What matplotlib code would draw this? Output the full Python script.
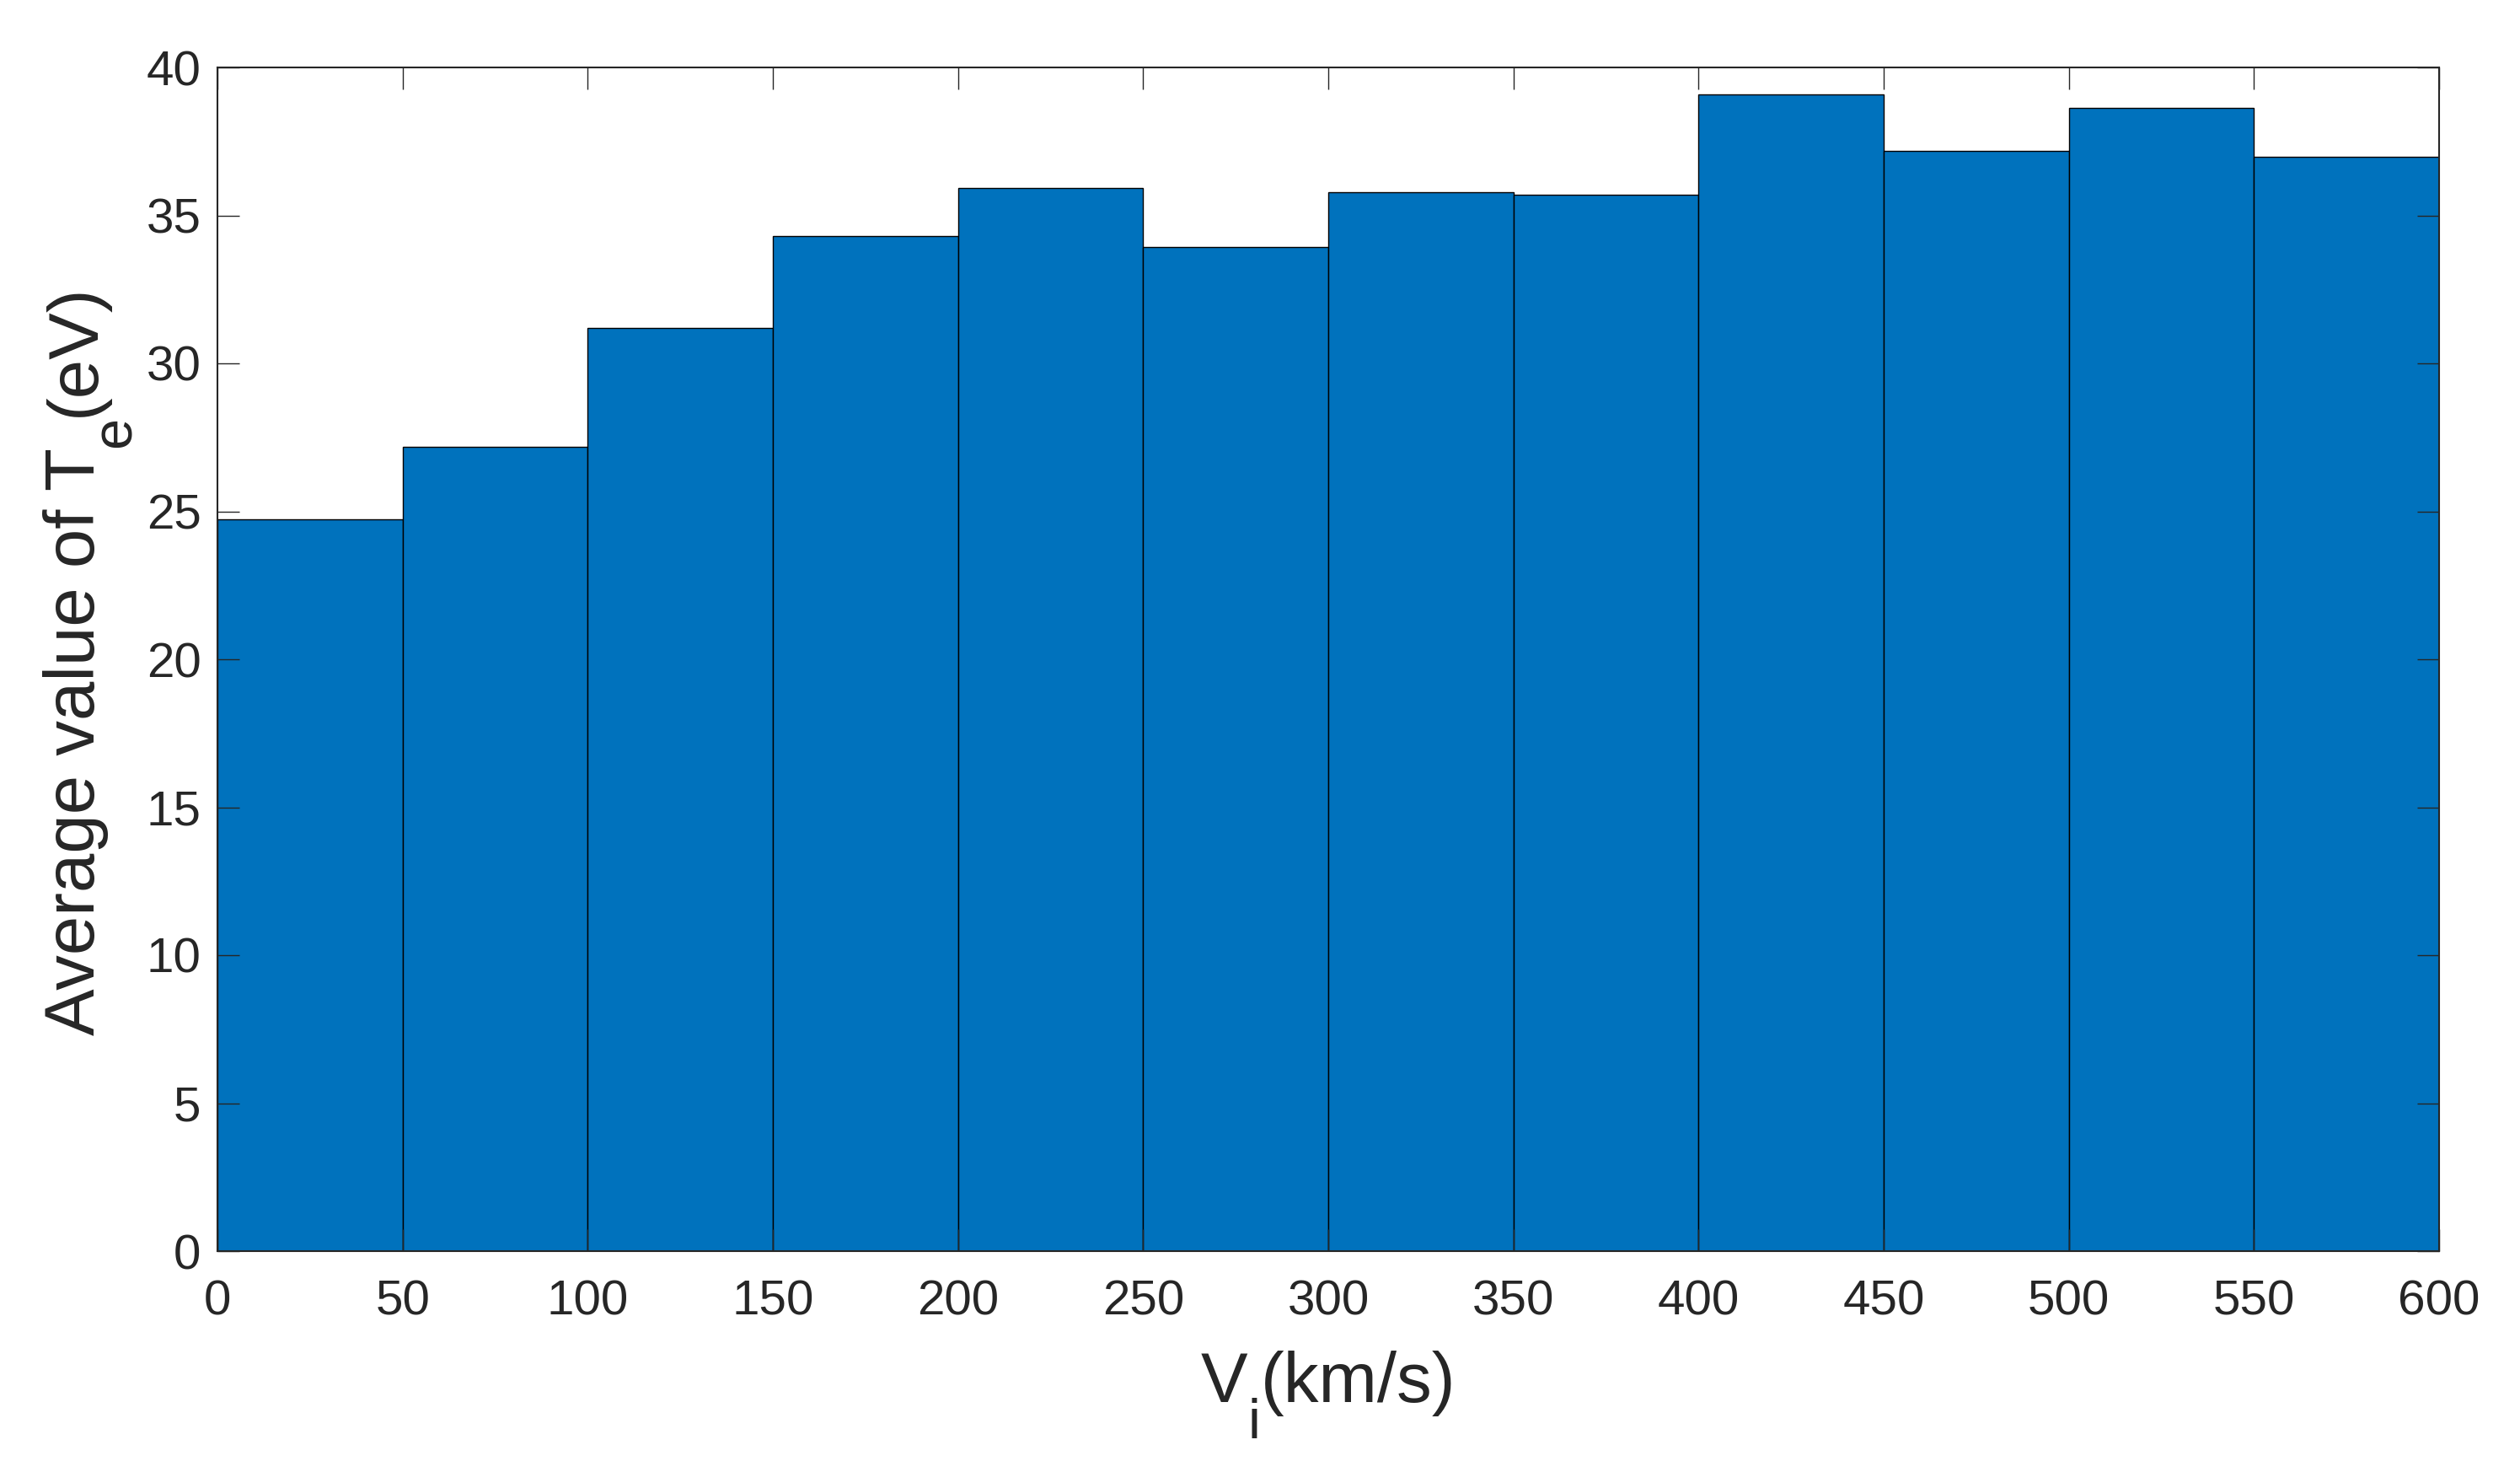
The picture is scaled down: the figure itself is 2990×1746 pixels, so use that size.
import matplotlib
matplotlib.use("Agg")
import matplotlib.pyplot as plt
import numpy as np

bin_edges = [0, 50, 100, 150, 200, 250, 300, 350, 400, 450, 500, 550, 600]
avg_te = [24.74, 27.17, 31.21, 34.30, 35.92, 33.94, 35.78, 35.69, 39.09, 37.18, 38.63, 36.97]
xticks = list(range(0, 601, 50))
yticks = list(range(0, 41, 5))
xlabel_parts = ["V", "i", "(km/s)"]
ylabel_parts = ["Average value of T", "e", "(eV)"]

plt.rcParams['font.family'] = ['Liberation Sans', 'DejaVu Sans']

W, H = 2990, 1746
DPI = 100
fig = plt.figure(figsize=(W/DPI, H/DPI), dpi=DPI)
left, right, top, bottom = 258, 2894, 80, 1484
ax = fig.add_axes([left/W, 1-bottom/H, (right-left)/W, (bottom-top)/H])

edges = np.array(bin_edges)
widths = np.diff(edges)
ax.bar(edges[:-1], avg_te, width=widths, align='edge', color='#0072BD',
       edgecolor='black', linewidth=1.0, zorder=1)

ax.set_xlim(0, 600)
ax.set_ylim(0, 40)
ax.set_xticks(xticks)
ax.set_yticks(yticks)
ax.tick_params(direction='in', length=18.7, width=1.0, colors='#262626',
               labelsize=42, top=True, right=True)
ax.tick_params(axis='x', pad=24)
ax.tick_params(axis='y', pad=14)
for s in ax.spines.values():
    s.set_color('#262626')
    s.set_linewidth(1.5)
    s.set_zorder(3)

renderer = fig.canvas.get_renderer()
MAIN, SUB = 60, 48
DROP = 43  # px below baseline for subscript


def composite_label(parts, center_px, baseline_px, vertical):
    sizes = [MAIN, SUB, MAIN]
    offs = [0, DROP, 0]
    widths_px = []
    for txt, sz in zip(parts, sizes):
        t = fig.text(0, 0, txt, fontsize=sz)
        widths_px.append(t.get_window_extent(renderer).width)
        t.remove()
    total = sum(widths_px)
    pos = center_px - total / 2
    for txt, sz, off, w in zip(parts, sizes, offs, widths_px):
        if not vertical:
            x = pos
            y = H - (baseline_px + off)
            fig.text(x / W, y / H, txt, fontsize=sz, color='#262626',
                     ha='left', va='baseline')
        else:
            # rotated 90 deg: text runs upward, baseline on the right side
            x = baseline_px + off
            y = H - (H - pos) if False else pos
            fig.text(x / W, y / H, txt, fontsize=sz, color='#262626',
                     ha='left', va='baseline', rotation=90,
                     rotation_mode='anchor')
        pos += w


# x label: centered on axes, baseline at 1663 px from top
composite_label(xlabel_parts, (left + right) / 2, 1663, vertical=False)
# y label: centered on axes vertically (figure y from bottom), baseline at x=112
composite_label(ylabel_parts, H - (top + bottom) / 2, 112, vertical=True)

fig.savefig('out.png', dpi=DPI)
